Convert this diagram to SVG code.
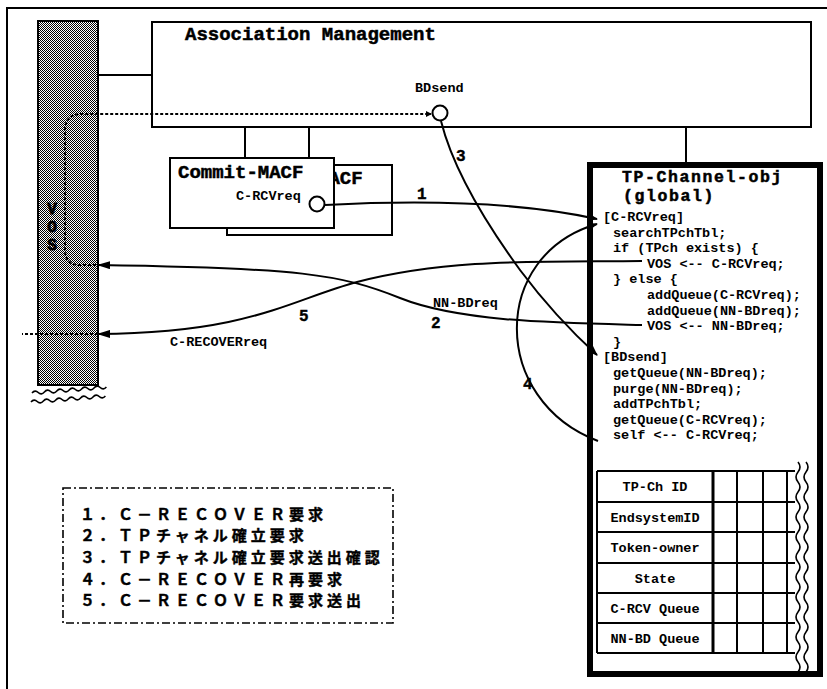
<svg xmlns="http://www.w3.org/2000/svg" width="827" height="689" viewBox="0 0 827 689">
<defs>
<pattern id="chk" width="2" height="2" patternUnits="userSpaceOnUse"><rect width="2" height="2" fill="#fff"/><rect width="1" height="1" fill="#000"/><rect x="1" y="1" width="1" height="1" fill="#000"/></pattern>
<marker id="arr" markerWidth="13" markerHeight="8" refX="12" refY="4" orient="auto" markerUnits="userSpaceOnUse"><path d="M0,0 L13,4 L0,8 Z" fill="#000"/></marker>
<marker id="arrt" markerWidth="10" markerHeight="8" refX="9" refY="4" orient="auto" markerUnits="userSpaceOnUse"><path d="M0,0 L10,4 L0,8 L3,4 Z" fill="#000"/></marker>
<marker id="arrsm" markerWidth="6" markerHeight="6" refX="5" refY="3" orient="auto" markerUnits="userSpaceOnUse"><path d="M0,0 L6,3 L0,6 Z" fill="#000"/></marker>
</defs>
<style>
.mono{font-family:"Liberation Mono","Courier New",monospace;font-weight:bold;fill:#000}
.t19{font-size:19px;stroke:#000;stroke-width:0.5}
.ttl{font-size:16.5px;letter-spacing:1.6px;stroke:#000;stroke-width:0.5}
.code{font-size:13.5px}
.lbl{font-size:13.5px}
.num{font-size:16px;stroke:#000;stroke-width:0.4}
.box{fill:#fff;stroke:#000;stroke-width:2}
.ln{fill:none;stroke:#000;stroke-width:2}
.dot{fill:none;stroke:#000;stroke-width:2;stroke-dasharray:3 2}
.jp{font-family:"Noto Sans CJK JP",sans-serif;font-size:15px;letter-spacing:4px;font-weight:bold;fill:#000;stroke:#000;stroke-width:0.4}
.wave{fill:none;stroke:#000;stroke-width:1.6}
</style>
<rect width="827" height="689" fill="#fff"/>

<g id="frame">
<path d="M7,689 L7,8 L827,8" class="ln" stroke-width="1.8"/>
</g>

<g id="vos">
<rect x="38" y="21" width="60" height="364" fill="url(#chk)" stroke="#000" stroke-width="2"/>
<text x="52" y="201" writing-mode="vertical-rl" style="text-orientation:upright" font-family="Liberation Mono, monospace" font-weight="bold" font-size="16" fill="#000" stroke="#000" stroke-width="0.8">VOS</text>
<path class="wave" d="M32,393 q3.1,-3.5 6.2,-0.5 t6.2,-0.5 t6.2,-0.5 t6.2,-0.5 t6.2,-0.5 t6.2,-0.5 t6.2,-0.5 t6.2,-0.5 t6.2,-0.5 t6.2,-0.5 t6.2,-0.5 t6.2,-0.5"/>
<path class="wave" d="M31,402 q3.1,-3.5 6.2,-0.5 t6.2,-0.5 t6.2,-0.5 t6.2,-0.5 t6.2,-0.5 t6.2,-0.5 t6.2,-0.5 t6.2,-0.5 t6.2,-0.5 t6.2,-0.5 t6.2,-0.5 t6.2,-0.5"/>
</g>

<g id="assoc">
<rect class="box" x="152" y="22" width="659" height="105"/>
<text class="mono t19" x="185" y="40">Association Management</text>
<text class="mono lbl" x="415" y="92">BDsend</text>
<circle cx="440" cy="113" r="7.5" fill="#fff" stroke="#000" stroke-width="2"/>
</g>

<g id="macf-back">
<rect class="box" x="227" y="165" width="165" height="70"/>
<text class="mono t19" x="317" y="184">MACF</text>
</g>

<g id="macf">
<rect class="box" x="170" y="158" width="164" height="70"/>
<text class="mono t19" x="178" y="178">Commit-MACF</text>
<text class="mono lbl" x="236" y="200">C-RCVreq</text>
<circle cx="317" cy="204" r="7.5" fill="#fff" stroke="#000" stroke-width="2"/>
</g>

<g id="tpchannel">
<rect x="590" y="165" width="230" height="509" fill="#fff" stroke="#000" stroke-width="6"/>
<text class="mono ttl" x="622" y="182">TP-Channel-obj</text>
<text class="mono ttl" x="623" y="201">(global)</text>
<g class="mono code">
<text x="603" y="221">[C-RCVreq]</text>
<text x="613" y="236.6">searchTPchTbl;</text>
<text x="613" y="252.2">if (TPch exists) {</text>
<text x="647" y="267.8">VOS &lt;-- C-RCVreq;</text>
<text x="613" y="283.4">} else {</text>
<text x="647" y="299">addQueue(C-RCVreq);</text>
<text x="647" y="314.6">addQueue(NN-BDreq);</text>
<text x="647" y="330.2">VOS &lt;-- NN-BDreq;</text>
<text x="613" y="345.8">}</text>
<text x="603" y="361.4">[BDsend]</text>
<text x="613" y="377">getQueue(NN-BDreq);</text>
<text x="613" y="392.6">purge(NN-BDreq);</text>
<text x="613" y="408.2">addTPchTbl;</text>
<text x="613" y="423.8">getQueue(C-RCVreq);</text>
<text x="613" y="439.4">self &lt;-- C-RCVreq;</text>
</g>
<g id="table">
<g class="ln">
<path d="M597,471 H795 M597,502 H795 M597,532 H795 M597,563 H795 M597,593 H795 M597,623 H795 M597,653 H795"/>
<path d="M597,471 V653 M737,471 V653 M763,471 V653 M787,471 V653"/>
<path d="M713,471 V653" stroke-width="3"/>
</g>
<g class="mono lbl" text-anchor="middle">
<text x="655" y="491">TP-Ch ID</text>
<text x="655" y="521.5">EndsystemID</text>
<text x="655" y="552">Token-owner</text>
<text x="655" y="582.5">State</text>
<text x="655" y="612.5">C-RCV Queue</text>
<text x="655" y="642.5">NN-BD Queue</text>
</g>
<path class="wave" d="M798,462 q4,5 0,10 t0,10 t0,10 t0,10 t0,10 t0,10 t0,10 t0,10 t0,10 t0,10 t0,10 t0,10 t0,10 t0,10 t0,10 t0,10 t0,10 t0,10 t0,10 t0,10 t0,10"/>
<path class="wave" d="M806,462 q4,5 0,10 t0,10 t0,10 t0,10 t0,10 t0,10 t0,10 t0,10 t0,10 t0,10 t0,10 t0,10 t0,10 t0,10 t0,10 t0,10 t0,10 t0,10 t0,10 t0,10 t0,10"/>
</g>
</g>

<g id="legend">
<rect x="63" y="488" width="330" height="135" fill="none" stroke="#000" stroke-width="1.6" stroke-dasharray="8 3 2 3"/>
<text class="jp" x="80" y="519.5">１．Ｃ－ＲＥＣＯＶＥＲ要求</text>
<text class="jp" x="80" y="541.2">２．ＴＰチャネル確立要求</text>
<text class="jp" x="80" y="562.9">３．ＴＰチャネル確立要求送出確認</text>
<text class="jp" x="80" y="584.6">４．Ｃ－ＲＥＣＯＶＥＲ再要求</text>
<text class="jp" x="80" y="606.3">５．Ｃ－ＲＥＣＯＶＥＲ要求送出</text>
</g>

<g id="connectors">
<path class="ln" d="M98,75 H152"/>
<path class="ln" stroke-width="2.5" d="M245,127 V158 M309,127 V158"/>
<path class="ln" stroke-width="2.5" d="M686,127 V162"/>
<path class="dot" d="M96,265 H80 Q65,265 65,250 V130 Q65,114 82,114 H431" marker-end="url(#arrsm)"/>
<path class="dot" d="M98,334 H22"/>
<path class="ln" d="M325,205 C420,200 520,202 597,219" marker-end="url(#arrt)"/>
<text class="mono num" x="417" y="199">1</text>
<path class="ln" d="M642,325 C560,323 460,322 400,298 C340,274 300,268 98,265" marker-end="url(#arr)"/>
<text class="mono lbl" x="433" y="307">NN-BDreq</text>
<text class="mono num" x="431" y="328">2</text>
<path class="ln" d="M441,121 C452,165 480,215 520,270 C550,310 575,335 597,355" marker-end="url(#arrt)"/>
<text class="mono num" x="456" y="161">3</text>
<path class="ln" d="M598,441 C490,400 490,255 597,224" marker-end="url(#arrt)"/>
<text class="mono num" x="523" y="389">4</text>
<path class="ln" d="M642,261 C540,262 450,258 357,282 C290,300 250,333 98,334" marker-end="url(#arr)"/>
<text class="mono num" x="299" y="321">5</text>
<text class="mono lbl" x="170" y="346">C-RECOVERreq</text>
</g>
</svg>
